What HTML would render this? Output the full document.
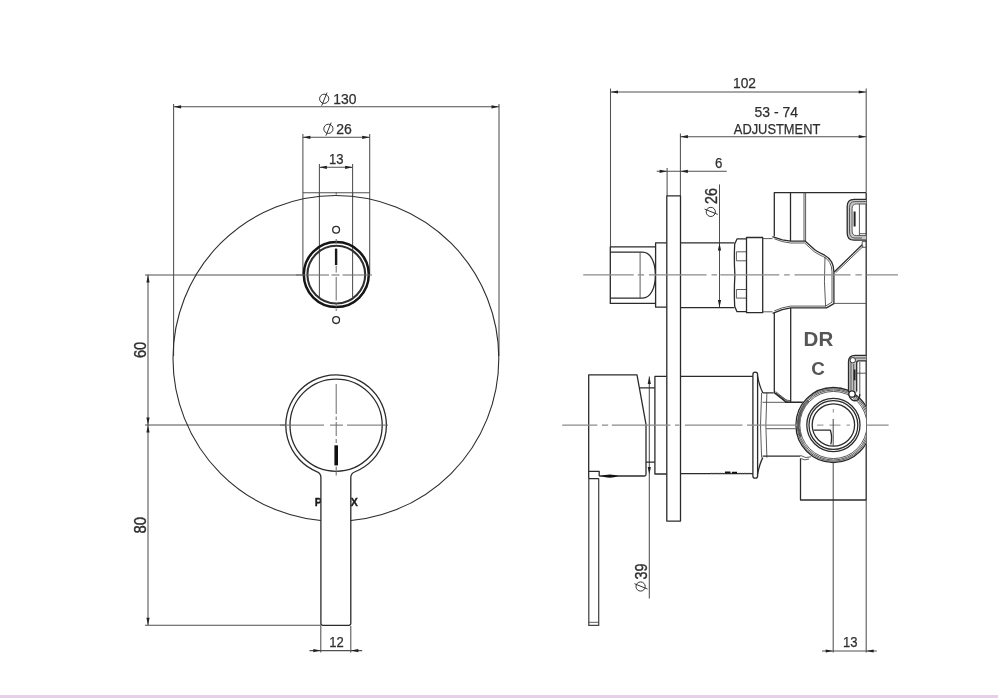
<!DOCTYPE html>
<html><head><meta charset="utf-8">
<style>
html,body{margin:0;padding:0;background:#fff;}
body{width:998px;height:698px;overflow:hidden;position:relative;font-family:"Liberation Sans",sans-serif;}
svg{position:absolute;left:0;top:0;display:block;filter:blur(0.5px);}
#strip{position:absolute;left:0;top:695px;width:998px;height:3px;background:#e6d0e8;}
text{font-family:"Liberation Sans",sans-serif;fill:#2e2e2e;}
.o{fill:none;stroke:#2b2b2b;stroke-width:1.3;stroke-linecap:butt;stroke-linejoin:round;}
.ow{fill:#fff;stroke:#2b2b2b;stroke-width:1.3;stroke-linejoin:round;}
.t{fill:none;stroke:#4a4a4a;stroke-width:0.9;}
.d{fill:none;stroke:#505050;stroke-width:1.05;}
.c{fill:none;stroke:#8a8a8a;stroke-width:1;}
.c1{fill:none;stroke:#6a6a6a;stroke-width:1;}
.c2{fill:none;stroke:#8c8c8c;stroke-width:1.3;}
.a{fill:#222;stroke:none;}
.dim{font-size:14.6px;stroke:#2e2e2e;stroke-width:0.25;}
.rot{font-size:16.3px;stroke-width:0.4;}
</style></head><body>
<svg width="998" height="698" viewBox="0 0 998 698">
<defs>
<g id="dia"><circle cx="0" cy="0" r="4.6" fill="none" stroke="#333" stroke-width="1"/><line x1="-2.5" y1="6.9" x2="2.8" y2="-6.2" stroke="#333" stroke-width="1"/></g>
<path id="ar" d="M0 0 L7.5 -1.6 L7.5 1.6 Z"/>
<clipPath id="wallclip"><rect x="780" y="380" width="86.2" height="100"/></clipPath>
</defs>

<!-- ================= FRONT VIEW ================= -->
<g id="front">
<!-- extension lines -->
<path class="d" d="M173.6 104 V356 M499 104 V356"/>
<path class="d" d="M302.9 134 V274 M369.7 134 V274"/>
<path class="d" d="M319.4 164 V297 M352.6 164 V297"/>
<path class="d" d="M302.9 192.7 H369.7" stroke="#333" stroke-width="1.2"/>
<path class="d" d="M319.4 192 V197 M352.6 192 V197" stroke-width="2" stroke="#222"/><path class="d" d="M336.2 192.5 V194.5" stroke-width="1.2"/>
<!-- dim lines top -->
<path class="d" d="M173.6 106.8 H499 M302.9 137.3 H369.7 M319.4 167.3 H352.6"/>
<use href="#ar" class="a" transform="translate(173.6 106.8)"/>
<use href="#ar" class="a" transform="translate(499 106.8) rotate(180)"/>
<use href="#ar" class="a" transform="translate(302.9 137.3)"/>
<use href="#ar" class="a" transform="translate(369.7 137.3) rotate(180)"/>
<use href="#ar" class="a" transform="translate(319.4 167.3)"/>
<use href="#ar" class="a" transform="translate(352.6 167.3) rotate(180)"/>
<use href="#dia" transform="translate(324.2 98.8)"/>
<text class="dim" x="333.2" y="103.5" textLength="23.2" lengthAdjust="spacingAndGlyphs">130</text>
<use href="#dia" transform="translate(328.4 128.8)"/>
<text class="dim" x="336.2" y="133.6" textLength="15.6" lengthAdjust="spacingAndGlyphs">26</text>
<text class="dim" x="329" y="164" textLength="14.5" lengthAdjust="spacingAndGlyphs">13</text>

<!-- left dims -->
<path class="d" d="M145 275 H304 M145 425 H287 M145 625.3 H321"/>
<path class="d" d="M148 274.8 V625.3"/>
<use href="#ar" class="a" transform="translate(148 275) rotate(90)"/>
<use href="#ar" class="a" transform="translate(148 425) rotate(-90)"/>
<use href="#ar" class="a" transform="translate(148 425) rotate(90)"/>
<use href="#ar" class="a" transform="translate(148 625.3) rotate(-90)"/>
<text class="dim rot" transform="translate(145.5 349.9) rotate(-90)" text-anchor="middle" textLength="16.4" lengthAdjust="spacingAndGlyphs">60</text>
<text class="dim rot" transform="translate(145.6 525.2) rotate(-90)" text-anchor="middle" textLength="16.6" lengthAdjust="spacingAndGlyphs">80</text>

<!-- big plate circle -->
<circle cx="335.9" cy="358.4" r="162.9" style="fill:none;stroke:#2e2e2e;stroke-width:1.1"/>

<!-- small holes -->
<circle class="o" cx="336.1" cy="229.7" r="3.4" stroke-width="1"/>
<circle class="o" cx="336.1" cy="320.1" r="3.4" stroke-width="1"/>

<!-- upper knob -->
<circle cx="336.3" cy="274.6" r="32.5" fill="none" stroke="#151515" stroke-width="2.5"/>
<circle cx="336.3" cy="274.6" r="28.9" fill="none" stroke="#303030" stroke-width="2.1"/>
<path class="c1" d="M296 275 H329 M331.5 275 H339.5 M342.5 275 H372"/>
<path class="c1" d="M336.2 239 V244 M336.2 266 V272.5 M336.2 277 V300.5 M336.2 303.5 V307 M336.2 309 V311"/>
<path d="M336.1 248.6 V265.1" stroke="#1a1a1a" stroke-width="2.4" fill="none"/>

<!-- brand text hidden by handle -->
<text x="314.7" y="506" font-size="10.6" font-weight="bold" style="fill:#1a1a1a;stroke:#1a1a1a;stroke-width:0.35" textLength="43.2" lengthAdjust="spacing">PHOENIX</text>

<!-- lower knob + handle -->
<path class="ow" d="M320.9 623.3 V477.36 A6.0 6.0 0 0 0 317.16 471.80 A50.3 50.3 0 1 1 354.59 471.98 A6.0 6.0 0 0 0 350.8 477.56 V623.3 Q350.8 625.3 348.8 625.3 H322.9 Q320.9 625.3 320.9 623.3 Z" stroke-width="1.2"/>
<circle class="o" cx="336.1" cy="425.2" r="46.1" stroke-width="1.3"/>
<path class="c1" d="M280 425.1 H324 M330 425.1 H343 M347 425.1 H377"/><path class="c1" d="M377 425.1 H388" stroke="#aaa"/>
<path class="c1" d="M336.2 384 V414 M336.2 416.5 V420 M336.2 422 V436 M336.2 439 V443 M336.2 466.5 V475.5"/>
<path d="M336.2 445.3 V465.4" stroke="#111" stroke-width="3.6" fill="none"/>

<!-- 12 dim -->
<path class="d" d="M320.8 626 V652.5 M350.8 626 V652.5 M309.5 650.6 H362.2"/>
<use href="#ar" class="a" transform="translate(320.8 650.6) rotate(180)"/>
<use href="#ar" class="a" transform="translate(350.8 650.6)"/>
<text class="dim" x="329.3" y="647.2" textLength="14.5" lengthAdjust="spacingAndGlyphs">12</text>
</g>

<!-- ================= SIDE VIEW ================= -->
<g id="side">
<!-- dims top -->
<path class="d" d="M610.5 88.5 V246.8 M866.2 88.5 V192"/>
<path class="d" d="M610.5 92 H866.2"/>
<use href="#ar" class="a" transform="translate(610.5 92)"/>
<use href="#ar" class="a" transform="translate(866.2 92) rotate(180)"/>
<text class="dim" x="733" y="88" textLength="23" lengthAdjust="spacingAndGlyphs">102</text>
<path class="d" d="M680.4 133.5 V196 M680.4 136.7 H866.2"/>
<use href="#ar" class="a" transform="translate(680.4 136.7)"/>
<use href="#ar" class="a" transform="translate(866.2 136.7) rotate(180)"/>
<text class="dim" x="754.5" y="116.6" textLength="43.5" lengthAdjust="spacingAndGlyphs">53 - 74</text>
<text class="dim" x="733.8" y="134" textLength="86.5" lengthAdjust="spacingAndGlyphs">ADJUSTMENT</text>
<path class="d" d="M667.1 168 V196 M656.7 171.3 H726.8"/>
<use href="#ar" class="a" transform="translate(667.1 171.3) rotate(180)"/>
<use href="#ar" class="a" transform="translate(680.4 171.3)"/>
<text class="dim" x="715" y="167.7" textLength="7.4" lengthAdjust="spacingAndGlyphs">6</text>

<!-- dia 26 dim -->
<path class="d" d="M719.5 184.4 V307.5"/>
<use href="#ar" class="a" transform="translate(719.5 242.9) rotate(90)"/>
<use href="#ar" class="a" transform="translate(719.5 307.6) rotate(-90)"/>
<g transform="translate(716.6 217.5) rotate(-90)"><use href="#dia" transform="translate(5.6 -5.8)"/><text class="dim rot" x="13.4" y="0" textLength="16" lengthAdjust="spacingAndGlyphs">26</text></g>

<!-- dia 39 dim -->
<path class="d" d="M649.3 376.4 V598.5"/>
<use href="#ar" class="a" transform="translate(649.3 376.4) rotate(90)"/>
<use href="#ar" class="a" transform="translate(649.3 474.6) rotate(-90)"/>
<g transform="translate(646.5 592.4) rotate(-90)"><use href="#dia" transform="translate(5.9 -5.9)"/><text class="dim rot" x="13" y="0" textLength="16" lengthAdjust="spacingAndGlyphs">39</text></g>

<!-- 13 dim bottom -->
<path class="d" d="M866.2 500 V652.5" stroke="#777"/>
<path class="d" d="M833.2 419 V652.5" stroke="#8a8a8a" stroke-width="1.3"/>
<path class="d" d="M822 651 H876.8"/>
<use href="#ar" class="a" transform="translate(833.2 651) rotate(180)"/>
<use href="#ar" class="a" transform="translate(866.2 651)"/>
<text class="dim" x="843" y="647" textLength="14.5" lengthAdjust="spacingAndGlyphs">13</text>

<!-- centre lines -->

<!-- wall line (object part) -->
<path class="o" d="M866.2 192.6 V500" stroke-width="1.7" stroke="#1e1e1e"/>

<!-- wall plate -->
<rect class="ow" x="666.8" y="195.8" width="13.7" height="325.3"/>

<!-- ===== upper assembly ===== -->
<path class="o" d="M655.6 246.8 H610.3 V303.4 H655.6"/>
<path class="o" d="M610.3 252.2 H642.4 C650.5 252.2 655.4 262 655.4 275.1 C655.4 288.3 650.5 298.1 642.4 298.1 H610.3"/>
<path class="t" d="M640.1 252.2 V298.1" stroke="#333"/>
<path class="o" d="M666.8 242.8 H655.6 V307.2 H666.8" stroke-width="1.6"/>
<path class="o" d="M680.5 242.9 H734.4 M680.5 307.7 H734.4"/>
<!-- nut -->
<path class="o" d="M746.5 238.9 H737 L734.7 244 Q733.9 259 734.9 275 Q733.9 291 734.7 306.5 L737 311.7 H746.5" stroke-width="1.9"/>
<path class="t" d="M746.5 251.8 H736.4 V260.8 H746.5 M746.5 289.5 H736.4 V298.1 H746.5" stroke-width="1.3" stroke="#333"/>
<path class="o" d="M746.5 237.5 H762.7 V312.7 H746.5 Z"/>
<path class="t" d="M762.7 238.6 H772.5 M762.7 311.8 H772.5" stroke="#888"/>
<!-- top box -->
<path class="o" d="M774.3 236.3 V192.6 H866.2" stroke-width="1.5"/>
<path class="o" d="M790.5 192.6 V241.2" stroke-width="1.2"/><path class="t" d="M804 192.6 V241.2 M805.6 192.6 V241.4" stroke="#333"/>
<!-- body outline -->
<path class="o" d="M772.4 236.6 L782.3 239.8 L790.7 241.2 H805.3 L815.4 250.3 Q820 253.2 824.6 255.2 Q833.7 260 833.9 271.7 V303.6 L826.5 307.9 H790.7 L782.3 309.6 L772.6 313.4" stroke-width="1.5"/>
<path class="t" d="M774.3 238.8 L782.3 241.6 L790.7 243 H804.6 L814.4 251.8 Q819 254.8 823.6 256.8 Q831.8 261 832 271.7 V302.2 L825.6 306.1 H790.7 L782.3 307.8 L774.3 310.9"/>
<path class="t" d="M825 256.5 Q823.6 282 825.6 306.6" stroke="#2e2e2e" stroke-width="1.1"/>
<path class="o" d="M834.2 272 L862.2 244.8" stroke-width="1.6"/>
<path class="t" d="M835.6 272.8 L863.4 246.2"/>
<path class="t" d="M833.9 303.4 H866.2"/>
<!-- upper clip -->
<path d="M866.2 199.4 H854 Q847.2 199.4 847.2 206.5 V233 Q847.2 240.2 854 240.2 H866.2 V235.6 H856.5 Q852.1 235.6 852.1 231 V208.5 Q852.1 204 856.5 204 H866.2 Z" fill="#c9c9c9"/>
<path class="o" d="M866.2 199.4 H854 Q847.2 199.4 847.2 206.5 V233 Q847.2 240.2 854 240.2 H866.2" stroke-width="1.2"/>
<path class="t" d="M866.2 201.6 H855 Q849.5 201.6 849.5 207.5 V232 Q849.5 238 855 238 H862"/>
<path class="t" d="M866.2 204 H856.5 Q852.1 204 852.1 208.5 V231 Q852.1 235.6 856.5 235.6 H866.2"/>
<path class="t" d="M859.4 204 V235.6 M859.4 233.7 H866.2"/>
<path d="M854.6 211.5 V226.5" stroke="#222" stroke-width="2" fill="none"/>
<path class="t" d="M862.2 241.6 H866.2 M862.2 241.6 V247.3 H866.2"/>

<!-- mid body -->
<path class="o" d="M774.3 313 V392.8 L785.6 401.6 L790.7 402.4 H804.2"/>
<path class="t" d="M776 393.2 L786 400 L790.7 400.8"/>
<path class="o" d="M790.7 307.9 V402.4"/>
<text x="803.6" y="345.6" font-size="20.4" font-weight="bold" style="fill:#555" textLength="29.6" lengthAdjust="spacingAndGlyphs">DR</text>
<text x="811.2" y="375.4" font-size="18.2" font-weight="bold" style="fill:#555" textLength="13.6" lengthAdjust="spacingAndGlyphs">C</text>

<!-- ===== lower assembly ===== -->
<!-- lever -->
<path d="M588.8 478.6 V625.4 H598.7 V478.6" style="fill:#fff;stroke:#444;stroke-width:1.25"/>
<path class="t" d="M588.8 622.3 H598.7" stroke-width="1.2"/>
<path class="o" d="M588.7 471.4 H599.2 V476 M588.7 478.6 H598.9" stroke-width="1.2"/>
<!-- handle body -->
<path class="o" d="M588.7 478.6 V374.9 H637 L646 424.3 V474.5 Q646 476 644.5 476 H599.2"/>
<path d="M601 476 Q609.8 472.8 618.6 476 Q609.8 479.4 601 476 Z" fill="#111"/>
<path class="o" d="M639.6 387.9 H654.7 M646 462.1 H654.7" stroke-width="1.1"/>
<!-- collar -->
<path class="o" d="M666.8 376.4 H654.9 V474 H666.8" stroke-width="1.6"/>
<!-- cylinder -->
<path class="o" d="M680.5 376.4 H753 M680.5 473.7 H753"/>
<path d="M711 473.2 H751" stroke="#666" stroke-width="0.8" stroke-dasharray="1.2 1" fill="none"/>
<path d="M725 472.6 H730.5 M732 472.8 H737" stroke="#111" stroke-width="2" fill="none"/>
<!-- flange -->
<rect class="ow" x="752.9" y="372.1" width="4.7" height="106.1" rx="2.3"/>
<!-- cone -->
<path class="o" d="M757.4 375.5 Q759.5 386.5 762.8 392.8 M762.8 392.8 H773.6 M757.4 474.8 Q759.5 464 762.8 457.6"/>
<path class="t" d="M761.6 392.8 Q759.4 425 761.6 457.6 M766.9 392.8 Q764.8 425 766.9 457.6"/>
<path class="t" d="M762.5 402.3 H785" stroke="#999" stroke-width="1.2"/><path class="o" d="M785 402.3 H804.6" stroke-width="1.7"/>
<path class="t" d="M766.2 428.7 H798.3 V418.5"/>
<path class="o" d="M762.6 456.2 H800.4" stroke-width="1.6"/>
<path class="o" d="M774.3 392.6 L785.4 401.6" stroke-width="1.2"/><path class="t" d="M775.6 391.6 L787 400.6"/>
<!-- lower box -->
<path class="o" d="M800.5 458.5 V500 H866.2" stroke-width="1.15" stroke="#3a3a3a"/>
<path class="t" d="M800.4 455.4 Q806 459 811 456.8 M800.4 458.4 Q805 461 809 459"/>

<!-- port circles (clipped at wall) -->
<g clip-path="url(#wallclip)">
<circle cx="833.4" cy="425" r="38.2" fill="#fff" stroke="none"/>
<circle class="o" cx="833.4" cy="425" r="37.5" stroke-width="1.9"/>
<path class="t" d="M799.6 436 A35.6 35.6 0 0 1 808 400 M801 437 A34.4 34.4 0 0 1 809 401" stroke="#444"/>
<circle class="t" cx="833.4" cy="425" r="36.2" stroke="#555"/>
<circle class="t" cx="833.4" cy="425" r="35"/>
<circle class="t" cx="833.4" cy="425" r="33.6" stroke="#777"/>
<circle class="o" cx="833.4" cy="425" r="26.6" stroke-width="1.2"/>
<circle class="o" cx="833.4" cy="425" r="24.4" stroke-width="1.2"/>
<circle class="o" cx="833.4" cy="425" r="21.2" stroke-width="1.5"/>
</g>
<!-- lower clip -->
<path d="M866.2 355.4 H855 Q848.5 355.4 848.5 362 V393 H856.7 V363 Q856.7 360.8 858.5 360.8 H866.2 Z" fill="#c4c4c4"/>
<path class="o" d="M866.2 355.4 H855 Q848.5 355.4 848.5 362 V392" stroke-width="1.2"/>
<path class="t" d="M866.2 358 H856 Q851 358 851 363 V390"/>
<path class="o" d="M866.2 360.8 H858.5 Q856.7 360.8 856.7 363 V391.5" stroke-width="1.1"/><path class="t" d="M859.8 362 V394" stroke="#333"/>
<path class="t" d="M853.7 364 V390"/>
<circle cx="852.8" cy="360.2" r="2.7" style="fill:#fff;stroke:#333;stroke-width:1"/>
<circle cx="852" cy="394" r="3.2" style="fill:#fff;stroke:#222;stroke-width:1.3"/>
<path class="o" d="M849.3 396.6 Q853 402.6 857.6 400 Q860 398.2 859.8 394" stroke-width="1.2"/><path class="t" d="M855 395 Q856.6 397.4 858 396"/>
<path d="M854.6 369.5 V380.3" stroke="#222" stroke-width="1.8" fill="none"/>
<path class="t" d="M855.4 373.2 H866.2"/>

<path class="o" d="M813.6 430.2 H830.4 Q832.6 437 830.8 444.4" stroke-width="1.5"/>
<path class="c" d="M817 425.1 H823.5 M829.5 425.1 H840.5 M846.5 425.1 H850" stroke="#777"/>
<path class="c" d="M833.3 409 V412.5" stroke="#999"/>
<path class="d" d="M833.2 419 V446" stroke="#8a8a8a"/>
<path class="c2" d="M583.2 274.8 H633.7 M637.7 274.8 H644.1 M648.9 274.8 H706.7 M711.5 274.8 H717 M720.3 274.8 H779.3 M784.1 274.8 H789.7 M794.5 274.8 H850.6 M855.4 274.8 H861.8 M866.6 274.8 H898"/>
<path class="c2" d="M562.2 425.1 H597.4 M601.9 425.1 H608.2 M611.8 425.1 H670.4 M675 425.1 H679.5 M684.9 425.1 H742.5 M747 425.1 H797.5 M866.8 425.1 H888.6"/>
</g>
</svg>
<div id="strip"></div>
</body></html>
